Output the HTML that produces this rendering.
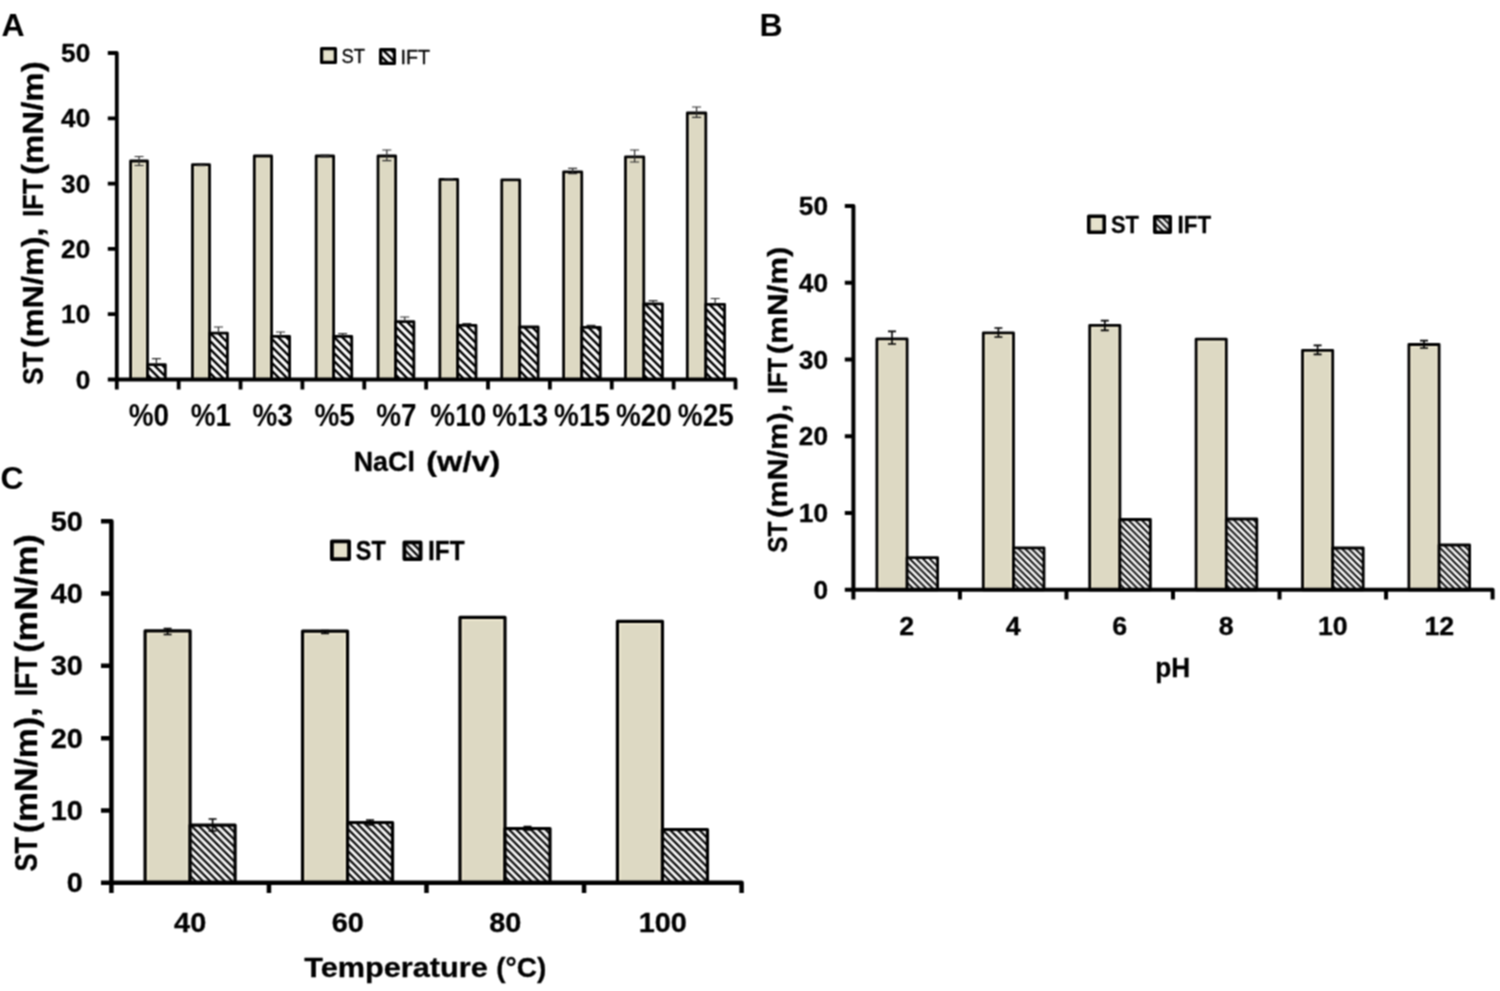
<!DOCTYPE html>
<html lang="en"><head><meta charset="utf-8"><title>ST and IFT charts</title>
<style>html,body{margin:0;padding:0;background:#fff}body{width:1500px;height:991px;overflow:hidden}svg{display:block}text{font-family:"Liberation Sans", sans-serif;fill:#000}</style>
</head><body>
<svg width="1500" height="991" viewBox="0 0 1500 991">
<defs>
<linearGradient id="g" x1="0" x2="1" y1="0" y2="0"><stop offset="0" stop-color="#F1ECD4"/><stop offset="0.18" stop-color="#DDD9C3"/><stop offset="0.82" stop-color="#DDD9C3"/><stop offset="1" stop-color="#F1ECD4"/></linearGradient>
<linearGradient id="g2" x1="0" x2="1" y1="0" y2="0"><stop offset="0" stop-color="#E6E2CC"/><stop offset="1" stop-color="#E6E2CC"/></linearGradient>
<pattern id="hA" width="8" height="8" patternUnits="userSpaceOnUse" patternTransform="translate(5 0)"><rect width="8" height="8" fill="#fff"/><path d="M-8 -8L16 16M-8 0L8 16M0 -8L16 8" stroke="#000" stroke-width="2.4"/></pattern>
<pattern id="hB" width="6.6" height="6.6" patternUnits="userSpaceOnUse" patternTransform="translate(1.2 0)"><rect width="6.6" height="6.6" fill="#fff"/><path d="M-6.6 -6.6L13.2 13.2M-6.6 0L6.6 13.2M0 -6.6L13.2 6.6" stroke="#000" stroke-width="1.9"/></pattern>
<pattern id="hC" width="7.3" height="7.3" patternUnits="userSpaceOnUse" patternTransform="translate(0.7 0)"><rect width="7.3" height="7.3" fill="#fff"/><path d="M-7.3 -7.3L14.6 14.6M-7.3 0L7.3 14.6M0 -7.3L14.6 7.3" stroke="#000" stroke-width="2.25"/></pattern>
<filter id="soft" x="0" y="0" width="1500" height="991" filterUnits="userSpaceOnUse" color-interpolation-filters="sRGB"><feConvolveMatrix order="3" kernelMatrix="1 2 1 2 4 2 1 2 1" divisor="16" edgeMode="duplicate" preserveAlpha="false"/></filter>
</defs>
<rect width="1500" height="991" fill="#fff"/>
<g filter="url(#soft)">
<rect x="130.60" y="161.00" width="16.90" height="218.50" fill="#EFE9D1" stroke="#000" stroke-width="2.8" stroke-linejoin="round"/>
<rect x="133.20" y="163.60" width="11.70" height="214.90" fill="#DDD9C3"/>
<rect x="147.50" y="364.60" width="17.80" height="14.90" fill="url(#hA)" stroke="#000" stroke-width="2.8" stroke-linejoin="round"/>
<rect x="192.46" y="164.60" width="17.07" height="214.90" fill="#EFE9D1" stroke="#000" stroke-width="2.8" stroke-linejoin="round"/>
<rect x="195.06" y="167.20" width="11.87" height="211.30" fill="#DDD9C3"/>
<rect x="209.53" y="333.20" width="17.91" height="46.30" fill="url(#hA)" stroke="#000" stroke-width="2.8" stroke-linejoin="round"/>
<rect x="254.32" y="156.00" width="17.24" height="223.50" fill="#EFE9D1" stroke="#000" stroke-width="2.8" stroke-linejoin="round"/>
<rect x="256.92" y="158.60" width="12.04" height="219.90" fill="#DDD9C3"/>
<rect x="271.56" y="336.40" width="18.02" height="43.10" fill="url(#hA)" stroke="#000" stroke-width="2.8" stroke-linejoin="round"/>
<rect x="316.18" y="156.00" width="17.41" height="223.50" fill="#EFE9D1" stroke="#000" stroke-width="2.8" stroke-linejoin="round"/>
<rect x="318.78" y="158.60" width="12.21" height="219.90" fill="#DDD9C3"/>
<rect x="333.59" y="336.40" width="18.13" height="43.10" fill="url(#hA)" stroke="#000" stroke-width="2.8" stroke-linejoin="round"/>
<rect x="378.04" y="156.00" width="17.58" height="223.50" fill="#EFE9D1" stroke="#000" stroke-width="2.8" stroke-linejoin="round"/>
<rect x="380.64" y="158.60" width="12.38" height="219.90" fill="#DDD9C3"/>
<rect x="395.62" y="321.60" width="18.24" height="57.90" fill="url(#hA)" stroke="#000" stroke-width="2.8" stroke-linejoin="round"/>
<rect x="439.90" y="179.40" width="17.75" height="200.10" fill="#EFE9D1" stroke="#000" stroke-width="2.8" stroke-linejoin="round"/>
<rect x="442.50" y="182.00" width="12.55" height="196.50" fill="#DDD9C3"/>
<rect x="457.65" y="325.40" width="18.35" height="54.10" fill="url(#hA)" stroke="#000" stroke-width="2.8" stroke-linejoin="round"/>
<rect x="501.76" y="179.80" width="17.92" height="199.70" fill="#EFE9D1" stroke="#000" stroke-width="2.8" stroke-linejoin="round"/>
<rect x="504.36" y="182.40" width="12.72" height="196.10" fill="#DDD9C3"/>
<rect x="519.68" y="327.00" width="18.46" height="52.50" fill="url(#hA)" stroke="#000" stroke-width="2.8" stroke-linejoin="round"/>
<rect x="563.62" y="171.80" width="18.09" height="207.70" fill="#EFE9D1" stroke="#000" stroke-width="2.8" stroke-linejoin="round"/>
<rect x="566.22" y="174.40" width="12.89" height="204.10" fill="#DDD9C3"/>
<rect x="581.71" y="327.40" width="18.57" height="52.10" fill="url(#hA)" stroke="#000" stroke-width="2.8" stroke-linejoin="round"/>
<rect x="625.48" y="156.80" width="18.26" height="222.70" fill="#EFE9D1" stroke="#000" stroke-width="2.8" stroke-linejoin="round"/>
<rect x="628.08" y="159.40" width="13.06" height="219.10" fill="#DDD9C3"/>
<rect x="643.74" y="303.80" width="18.68" height="75.70" fill="url(#hA)" stroke="#000" stroke-width="2.8" stroke-linejoin="round"/>
<rect x="687.34" y="113.00" width="18.43" height="266.50" fill="#EFE9D1" stroke="#000" stroke-width="2.8" stroke-linejoin="round"/>
<rect x="689.94" y="115.60" width="13.23" height="262.90" fill="#DDD9C3"/>
<rect x="705.77" y="304.30" width="18.79" height="75.20" fill="url(#hA)" stroke="#000" stroke-width="2.8" stroke-linejoin="round"/>
<path d="M139.05 156.50V165.50M134.55 156.50H143.55M134.55 165.50H143.55" stroke="#2a2a2a" stroke-width="1.2" fill="none"/>
<path d="M156.40 358.60V364.60M151.90 358.60H160.90" stroke="#2a2a2a" stroke-width="1.2" fill="none"/>
<path d="M200.99 163.60V165.60M196.49 163.60H205.49M196.49 165.60H205.49" stroke="#2a2a2a" stroke-width="1.2" fill="none"/>
<path d="M218.48 327.00V333.20M213.98 327.00H222.98" stroke="#2a2a2a" stroke-width="1.2" fill="none"/>
<path d="M280.57 332.00V336.40M276.07 332.00H285.07" stroke="#2a2a2a" stroke-width="1.2" fill="none"/>
<path d="M324.88 155.20V156.80M320.38 155.20H329.38M320.38 156.80H329.38" stroke="#2a2a2a" stroke-width="1.2" fill="none"/>
<path d="M342.65 333.60V336.40M338.15 333.60H347.15" stroke="#2a2a2a" stroke-width="1.2" fill="none"/>
<path d="M386.83 150.00V160.60M382.33 150.00H391.33M382.33 160.60H391.33" stroke="#2a2a2a" stroke-width="1.2" fill="none"/>
<path d="M404.74 317.00V321.60M400.24 317.00H409.24" stroke="#2a2a2a" stroke-width="1.2" fill="none"/>
<path d="M448.77 178.60V180.40M444.27 178.60H453.27M444.27 180.40H453.27" stroke="#2a2a2a" stroke-width="1.2" fill="none"/>
<path d="M466.82 323.60V325.40M462.32 323.60H471.32" stroke="#2a2a2a" stroke-width="1.2" fill="none"/>
<path d="M572.66 168.40V173.60M568.16 168.40H577.16M568.16 173.60H577.16" stroke="#2a2a2a" stroke-width="1.2" fill="none"/>
<path d="M591.00 325.40V327.40M586.50 325.40H595.50" stroke="#2a2a2a" stroke-width="1.2" fill="none"/>
<path d="M634.61 150.00V162.00M630.11 150.00H639.11M630.11 162.00H639.11" stroke="#2a2a2a" stroke-width="1.2" fill="none"/>
<path d="M653.08 300.60V303.80M648.58 300.60H657.58" stroke="#2a2a2a" stroke-width="1.2" fill="none"/>
<path d="M696.56 107.00V117.40M692.06 107.00H701.06M692.06 117.40H701.06" stroke="#2a2a2a" stroke-width="1.2" fill="none"/>
<path d="M715.16 298.50V304.30M710.66 298.50H719.66" stroke="#2a2a2a" stroke-width="1.2" fill="none"/>
<path d="M107.80 53.00H116.80V389.50M107.80 379.50H735.50V389.50M107.80 314.20H116.80M107.80 248.90H116.80M107.80 183.60H116.80M107.80 118.30H116.80M178.67 379.50V389.50M240.54 379.50V389.50M302.41 379.50V389.50M364.28 379.50V389.50M426.15 379.50V389.50M488.02 379.50V389.50M549.89 379.50V389.50M611.76 379.50V389.50M673.63 379.50V389.50" stroke="#000" stroke-width="3.8" fill="none" stroke-linejoin="round"/>
<text x="90.30" y="388.50" font-size="25" font-weight="bold" text-anchor="end" stroke="#000" stroke-width="0.3" stroke-linejoin="round" textLength="14.60" lengthAdjust="spacingAndGlyphs">0</text>
<text x="90.30" y="323.20" font-size="25" font-weight="bold" text-anchor="end" stroke="#000" stroke-width="0.3" stroke-linejoin="round" textLength="29.19" lengthAdjust="spacingAndGlyphs">10</text>
<text x="90.30" y="257.90" font-size="25" font-weight="bold" text-anchor="end" stroke="#000" stroke-width="0.3" stroke-linejoin="round" textLength="29.19" lengthAdjust="spacingAndGlyphs">20</text>
<text x="90.30" y="192.60" font-size="25" font-weight="bold" text-anchor="end" stroke="#000" stroke-width="0.3" stroke-linejoin="round" textLength="29.19" lengthAdjust="spacingAndGlyphs">30</text>
<text x="90.30" y="127.30" font-size="25" font-weight="bold" text-anchor="end" stroke="#000" stroke-width="0.3" stroke-linejoin="round" textLength="29.19" lengthAdjust="spacingAndGlyphs">40</text>
<text x="90.30" y="62.00" font-size="25" font-weight="bold" text-anchor="end" stroke="#000" stroke-width="0.3" stroke-linejoin="round" textLength="29.19" lengthAdjust="spacingAndGlyphs">50</text>
<text x="148.94" y="426.30" font-size="30.5" font-weight="bold" text-anchor="middle" textLength="40.33" lengthAdjust="spacingAndGlyphs">%0</text>
<text x="210.81" y="426.30" font-size="30.5" font-weight="bold" text-anchor="middle" textLength="40.33" lengthAdjust="spacingAndGlyphs">%1</text>
<text x="272.68" y="426.30" font-size="30.5" font-weight="bold" text-anchor="middle" textLength="40.33" lengthAdjust="spacingAndGlyphs">%3</text>
<text x="334.55" y="426.30" font-size="30.5" font-weight="bold" text-anchor="middle" textLength="40.33" lengthAdjust="spacingAndGlyphs">%5</text>
<text x="396.42" y="426.30" font-size="30.5" font-weight="bold" text-anchor="middle" textLength="40.33" lengthAdjust="spacingAndGlyphs">%7</text>
<text x="458.29" y="426.30" font-size="30.5" font-weight="bold" text-anchor="middle" textLength="55.84" lengthAdjust="spacingAndGlyphs">%10</text>
<text x="520.16" y="426.30" font-size="30.5" font-weight="bold" text-anchor="middle" textLength="55.84" lengthAdjust="spacingAndGlyphs">%13</text>
<text x="582.03" y="426.30" font-size="30.5" font-weight="bold" text-anchor="middle" textLength="55.84" lengthAdjust="spacingAndGlyphs">%15</text>
<text x="643.89" y="426.30" font-size="30.5" font-weight="bold" text-anchor="middle" textLength="55.84" lengthAdjust="spacingAndGlyphs">%20</text>
<text x="705.77" y="426.30" font-size="30.5" font-weight="bold" text-anchor="middle" textLength="55.84" lengthAdjust="spacingAndGlyphs">%25</text>
<text x="384.30" y="470.60" font-size="28" font-weight="bold" text-anchor="middle" stroke="#000" stroke-width="0.3" stroke-linejoin="round" textLength="61.20" lengthAdjust="spacingAndGlyphs">NaCl</text>
<text x="463.30" y="470.60" font-size="28" font-weight="bold" text-anchor="middle" stroke="#000" stroke-width="0.3" stroke-linejoin="round" textLength="74.00" lengthAdjust="spacingAndGlyphs">(w/v)</text>
<text x="43.00" y="368.22" font-size="30" font-weight="bold" text-anchor="middle" stroke="#000" stroke-width="0.3" stroke-linejoin="round" textLength="33.07" lengthAdjust="spacingAndGlyphs" transform="rotate(-90 43.00 368.22)">ST</text>
<text x="43.00" y="287.77" font-size="30" font-weight="bold" text-anchor="middle" stroke="#000" stroke-width="0.3" stroke-linejoin="round" textLength="120.69" lengthAdjust="spacingAndGlyphs" transform="rotate(-90 43.00 287.77)">(mN/m),</text>
<text x="43.00" y="197.72" font-size="30" font-weight="bold" text-anchor="middle" stroke="#000" stroke-width="0.3" stroke-linejoin="round" textLength="38.13" lengthAdjust="spacingAndGlyphs" transform="rotate(-90 43.00 197.72)">IFT</text>
<text x="43.00" y="118.17" font-size="30" font-weight="bold" text-anchor="middle" stroke="#000" stroke-width="0.3" stroke-linejoin="round" textLength="113.83" lengthAdjust="spacingAndGlyphs" transform="rotate(-90 43.00 118.17)">(mN/m)</text>
<rect x="321.6" y="48.6" width="13.8" height="13.8" fill="url(#g2)" stroke="#000" stroke-width="3.2" stroke-linejoin="round"/>
<rect x="380.6" y="49.6" width="13.8" height="13.8" fill="url(#hA)" stroke="#000" stroke-width="3.2" stroke-linejoin="round"/>
<text x="341.50" y="63.30" font-size="20.6" font-weight="normal" text-anchor="start" textLength="23.50" lengthAdjust="spacingAndGlyphs" stroke="#000" stroke-width="0.35">ST</text>
<text x="400.50" y="63.80" font-size="20.6" font-weight="normal" text-anchor="start" textLength="29.50" lengthAdjust="spacingAndGlyphs" stroke="#000" stroke-width="0.35">IFT</text>
<text x="1.60" y="36.30" font-size="32" font-weight="bold" text-anchor="start">A</text>
</g>
<g filter="url(#soft)">
<rect x="876.90" y="338.90" width="30.20" height="250.90" fill="#EFE9D1" stroke="#000" stroke-width="2.8" stroke-linejoin="round"/>
<rect x="879.90" y="341.90" width="24.20" height="246.90" fill="#DDD9C3"/>
<rect x="907.10" y="557.60" width="30.50" height="32.20" fill="url(#hB)" stroke="#000" stroke-width="2.8" stroke-linejoin="round"/>
<rect x="983.30" y="332.90" width="30.20" height="256.90" fill="#EFE9D1" stroke="#000" stroke-width="2.8" stroke-linejoin="round"/>
<rect x="986.30" y="335.90" width="24.20" height="252.90" fill="#DDD9C3"/>
<rect x="1013.50" y="547.80" width="30.50" height="42.00" fill="url(#hB)" stroke="#000" stroke-width="2.8" stroke-linejoin="round"/>
<rect x="1089.70" y="325.30" width="30.20" height="264.50" fill="#EFE9D1" stroke="#000" stroke-width="2.8" stroke-linejoin="round"/>
<rect x="1092.70" y="328.30" width="24.20" height="260.50" fill="#DDD9C3"/>
<rect x="1119.90" y="519.50" width="30.50" height="70.30" fill="url(#hB)" stroke="#000" stroke-width="2.8" stroke-linejoin="round"/>
<rect x="1196.10" y="339.20" width="30.20" height="250.60" fill="#EFE9D1" stroke="#000" stroke-width="2.8" stroke-linejoin="round"/>
<rect x="1199.10" y="342.20" width="24.20" height="246.60" fill="#DDD9C3"/>
<rect x="1226.30" y="519.00" width="30.50" height="70.80" fill="url(#hB)" stroke="#000" stroke-width="2.8" stroke-linejoin="round"/>
<rect x="1302.50" y="350.30" width="30.20" height="239.50" fill="#EFE9D1" stroke="#000" stroke-width="2.8" stroke-linejoin="round"/>
<rect x="1305.50" y="353.30" width="24.20" height="235.50" fill="#DDD9C3"/>
<rect x="1332.70" y="548.00" width="30.50" height="41.80" fill="url(#hB)" stroke="#000" stroke-width="2.8" stroke-linejoin="round"/>
<rect x="1408.90" y="344.50" width="30.20" height="245.30" fill="#EFE9D1" stroke="#000" stroke-width="2.8" stroke-linejoin="round"/>
<rect x="1411.90" y="347.50" width="24.20" height="241.30" fill="#DDD9C3"/>
<rect x="1439.10" y="545.00" width="30.50" height="44.80" fill="url(#hB)" stroke="#000" stroke-width="2.8" stroke-linejoin="round"/>
<path d="M892.00 331.40V344.00M888.00 331.40H896.00M888.00 344.00H896.00" stroke="#000" stroke-width="1.6" fill="none"/>
<path d="M998.40 328.00V337.00M994.40 328.00H1002.40M994.40 337.00H1002.40" stroke="#000" stroke-width="1.6" fill="none"/>
<path d="M1104.80 320.60V330.40M1100.80 320.60H1108.80M1100.80 330.40H1108.80" stroke="#000" stroke-width="1.6" fill="none"/>
<path d="M1317.60 345.40V354.40M1313.60 345.40H1321.60M1313.60 354.40H1321.60" stroke="#000" stroke-width="1.6" fill="none"/>
<path d="M1424.00 340.60V348.00M1420.00 340.60H1428.00M1420.00 348.00H1428.00" stroke="#000" stroke-width="1.6" fill="none"/>
<path d="M844.80 206.00H853.40V599.60M844.80 589.80H1492.60V599.60M844.80 513.04H853.40M844.80 436.28H853.40M844.80 359.52H853.40M844.80 282.76H853.40M959.93 589.80V599.60M1066.47 589.80V599.60M1173.00 589.80V599.60M1279.53 589.80V599.60M1386.07 589.80V599.60" stroke="#000" stroke-width="4.0" fill="none" stroke-linejoin="round"/>
<text x="828.00" y="598.80" font-size="25" font-weight="bold" text-anchor="end" stroke="#000" stroke-width="0.3" stroke-linejoin="round" textLength="14.60" lengthAdjust="spacingAndGlyphs">0</text>
<text x="828.00" y="522.04" font-size="25" font-weight="bold" text-anchor="end" stroke="#000" stroke-width="0.3" stroke-linejoin="round" textLength="29.19" lengthAdjust="spacingAndGlyphs">10</text>
<text x="828.00" y="445.28" font-size="25" font-weight="bold" text-anchor="end" stroke="#000" stroke-width="0.3" stroke-linejoin="round" textLength="29.19" lengthAdjust="spacingAndGlyphs">20</text>
<text x="828.00" y="368.52" font-size="25" font-weight="bold" text-anchor="end" stroke="#000" stroke-width="0.3" stroke-linejoin="round" textLength="29.19" lengthAdjust="spacingAndGlyphs">30</text>
<text x="828.00" y="291.76" font-size="25" font-weight="bold" text-anchor="end" stroke="#000" stroke-width="0.3" stroke-linejoin="round" textLength="29.19" lengthAdjust="spacingAndGlyphs">40</text>
<text x="828.00" y="215.00" font-size="25" font-weight="bold" text-anchor="end" stroke="#000" stroke-width="0.3" stroke-linejoin="round" textLength="29.19" lengthAdjust="spacingAndGlyphs">50</text>
<text x="906.67" y="635.30" font-size="25" font-weight="bold" text-anchor="middle" stroke="#000" stroke-width="0.3" stroke-linejoin="round" textLength="14.87" lengthAdjust="spacingAndGlyphs">2</text>
<text x="1013.20" y="635.30" font-size="25" font-weight="bold" text-anchor="middle" stroke="#000" stroke-width="0.3" stroke-linejoin="round" textLength="14.87" lengthAdjust="spacingAndGlyphs">4</text>
<text x="1119.73" y="635.30" font-size="25" font-weight="bold" text-anchor="middle" stroke="#000" stroke-width="0.3" stroke-linejoin="round" textLength="14.87" lengthAdjust="spacingAndGlyphs">6</text>
<text x="1226.27" y="635.30" font-size="25" font-weight="bold" text-anchor="middle" stroke="#000" stroke-width="0.3" stroke-linejoin="round" textLength="14.87" lengthAdjust="spacingAndGlyphs">8</text>
<text x="1332.80" y="635.30" font-size="25" font-weight="bold" text-anchor="middle" stroke="#000" stroke-width="0.3" stroke-linejoin="round" textLength="29.75" lengthAdjust="spacingAndGlyphs">10</text>
<text x="1439.33" y="635.30" font-size="25" font-weight="bold" text-anchor="middle" stroke="#000" stroke-width="0.3" stroke-linejoin="round" textLength="29.75" lengthAdjust="spacingAndGlyphs">12</text>
<text x="1172.80" y="677.00" font-size="27" font-weight="bold" text-anchor="middle" stroke="#000" stroke-width="0.3" stroke-linejoin="round" textLength="34.95" lengthAdjust="spacingAndGlyphs">pH</text>
<text x="786.60" y="537.06" font-size="28.5" font-weight="bold" text-anchor="middle" stroke="#000" stroke-width="0.3" stroke-linejoin="round" textLength="31.30" lengthAdjust="spacingAndGlyphs" transform="rotate(-90 786.60 537.06)">ST</text>
<text x="786.60" y="460.94" font-size="28.5" font-weight="bold" text-anchor="middle" stroke="#000" stroke-width="0.3" stroke-linejoin="round" textLength="114.21" lengthAdjust="spacingAndGlyphs" transform="rotate(-90 786.60 460.94)">(mN/m),</text>
<text x="786.60" y="375.72" font-size="28.5" font-weight="bold" text-anchor="middle" stroke="#000" stroke-width="0.3" stroke-linejoin="round" textLength="36.09" lengthAdjust="spacingAndGlyphs" transform="rotate(-90 786.60 375.72)">IFT</text>
<text x="786.60" y="300.45" font-size="28.5" font-weight="bold" text-anchor="middle" stroke="#000" stroke-width="0.3" stroke-linejoin="round" textLength="107.72" lengthAdjust="spacingAndGlyphs" transform="rotate(-90 786.60 300.45)">(mN/m)</text>
<rect x="1088.8" y="216.3" width="15.4" height="15.9" fill="url(#g2)" stroke="#000" stroke-width="3.6" stroke-linejoin="round"/>
<rect x="1154.8" y="216.8" width="15.4" height="15.4" fill="url(#hB)" stroke="#000" stroke-width="3.6" stroke-linejoin="round"/>
<text x="1111.00" y="233.00" font-size="24.6" font-weight="bold" text-anchor="start" stroke="#000" stroke-width="0.3" stroke-linejoin="round" textLength="28.00" lengthAdjust="spacingAndGlyphs">ST</text>
<text x="1177.60" y="233.00" font-size="24.6" font-weight="bold" text-anchor="start" stroke="#000" stroke-width="0.3" stroke-linejoin="round" textLength="33.50" lengthAdjust="spacingAndGlyphs">IFT</text>
<text x="759.40" y="36.30" font-size="32" font-weight="bold" text-anchor="start">B</text>
</g>
<g filter="url(#soft)">
<rect x="145.10" y="630.80" width="45.00" height="252.00" fill="#EFE9D1" stroke="#000" stroke-width="3.2" stroke-linejoin="round"/>
<rect x="148.60" y="634.30" width="38.00" height="247.50" fill="#DDD9C3"/>
<rect x="190.10" y="825.20" width="45.00" height="57.60" fill="url(#hC)" stroke="#000" stroke-width="3.2" stroke-linejoin="round"/>
<rect x="302.55" y="631.20" width="45.00" height="251.60" fill="#EFE9D1" stroke="#000" stroke-width="3.2" stroke-linejoin="round"/>
<rect x="306.05" y="634.70" width="38.00" height="247.10" fill="#DDD9C3"/>
<rect x="347.55" y="822.50" width="45.00" height="60.30" fill="url(#hC)" stroke="#000" stroke-width="3.2" stroke-linejoin="round"/>
<rect x="460.00" y="617.40" width="45.00" height="265.40" fill="#EFE9D1" stroke="#000" stroke-width="3.2" stroke-linejoin="round"/>
<rect x="463.50" y="620.90" width="38.00" height="260.90" fill="#DDD9C3"/>
<rect x="505.00" y="828.50" width="45.00" height="54.30" fill="url(#hC)" stroke="#000" stroke-width="3.2" stroke-linejoin="round"/>
<rect x="617.45" y="621.30" width="45.00" height="261.50" fill="#EFE9D1" stroke="#000" stroke-width="3.2" stroke-linejoin="round"/>
<rect x="620.95" y="624.80" width="38.00" height="257.00" fill="#DDD9C3"/>
<rect x="662.45" y="829.50" width="45.00" height="53.30" fill="url(#hC)" stroke="#000" stroke-width="3.2" stroke-linejoin="round"/>
<path d="M167.60 628.50V634.50M163.60 628.50H171.60M163.60 634.50H171.60" stroke="#000" stroke-width="1.6" fill="none"/>
<path d="M212.60 819.00V831.00M208.60 819.00H216.60M208.60 831.00H216.60" stroke="#000" stroke-width="1.6" fill="none"/>
<path d="M325.05 630.50V633.50M321.05 630.50H329.05M321.05 633.50H329.05" stroke="#000" stroke-width="1.6" fill="none"/>
<path d="M370.05 820.00V825.00M366.05 820.00H374.05M366.05 825.00H374.05" stroke="#000" stroke-width="1.6" fill="none"/>
<path d="M527.50 826.50V830.00M523.50 826.50H531.50M523.50 830.00H531.50" stroke="#000" stroke-width="1.6" fill="none"/>
<path d="M101.00 521.20H111.40V893.10M101.00 882.80H741.60V893.10M101.00 810.48H111.40M101.00 738.16H111.40M101.00 665.84H111.40M101.00 593.52H111.40M268.95 882.80V893.10M426.50 882.80V893.10M584.05 882.80V893.10" stroke="#000" stroke-width="4.5" fill="none" stroke-linejoin="round"/>
<text x="82.80" y="892.40" font-size="27" font-weight="bold" text-anchor="end" stroke="#000" stroke-width="0.3" stroke-linejoin="round" textLength="16.06" lengthAdjust="spacingAndGlyphs">0</text>
<text x="82.80" y="820.08" font-size="27" font-weight="bold" text-anchor="end" stroke="#000" stroke-width="0.3" stroke-linejoin="round" textLength="32.13" lengthAdjust="spacingAndGlyphs">10</text>
<text x="82.80" y="747.76" font-size="27" font-weight="bold" text-anchor="end" stroke="#000" stroke-width="0.3" stroke-linejoin="round" textLength="32.13" lengthAdjust="spacingAndGlyphs">20</text>
<text x="82.80" y="675.44" font-size="27" font-weight="bold" text-anchor="end" stroke="#000" stroke-width="0.3" stroke-linejoin="round" textLength="32.13" lengthAdjust="spacingAndGlyphs">30</text>
<text x="82.80" y="603.12" font-size="27" font-weight="bold" text-anchor="end" stroke="#000" stroke-width="0.3" stroke-linejoin="round" textLength="32.13" lengthAdjust="spacingAndGlyphs">40</text>
<text x="82.80" y="530.80" font-size="27" font-weight="bold" text-anchor="end" stroke="#000" stroke-width="0.3" stroke-linejoin="round" textLength="32.13" lengthAdjust="spacingAndGlyphs">50</text>
<text x="190.18" y="932.20" font-size="27" font-weight="bold" text-anchor="middle" stroke="#000" stroke-width="0.3" stroke-linejoin="round" textLength="32.13" lengthAdjust="spacingAndGlyphs">40</text>
<text x="347.73" y="932.20" font-size="27" font-weight="bold" text-anchor="middle" stroke="#000" stroke-width="0.3" stroke-linejoin="round" textLength="32.13" lengthAdjust="spacingAndGlyphs">60</text>
<text x="505.27" y="932.20" font-size="27" font-weight="bold" text-anchor="middle" stroke="#000" stroke-width="0.3" stroke-linejoin="round" textLength="32.13" lengthAdjust="spacingAndGlyphs">80</text>
<text x="662.83" y="932.20" font-size="27" font-weight="bold" text-anchor="middle" stroke="#000" stroke-width="0.3" stroke-linejoin="round" textLength="48.19" lengthAdjust="spacingAndGlyphs">100</text>
<text x="396.00" y="977.00" font-size="28" font-weight="bold" text-anchor="middle" stroke="#000" stroke-width="0.3" stroke-linejoin="round" textLength="183.40" lengthAdjust="spacingAndGlyphs">Temperature</text>
<text x="521.30" y="977.00" font-size="28" font-weight="bold" text-anchor="middle" stroke="#000" stroke-width="0.3" stroke-linejoin="round" textLength="50.00" lengthAdjust="spacingAndGlyphs">(°C)</text>
<text x="37.00" y="854.25" font-size="30.8" font-weight="bold" text-anchor="middle" stroke="#000" stroke-width="0.3" stroke-linejoin="round" textLength="34.45" lengthAdjust="spacingAndGlyphs" transform="rotate(-90 37.00 854.25)">ST</text>
<text x="37.00" y="770.38" font-size="30.8" font-weight="bold" text-anchor="middle" stroke="#000" stroke-width="0.3" stroke-linejoin="round" textLength="125.80" lengthAdjust="spacingAndGlyphs" transform="rotate(-90 37.00 770.38)">(mN/m),</text>
<text x="37.00" y="676.49" font-size="30.8" font-weight="bold" text-anchor="middle" stroke="#000" stroke-width="0.3" stroke-linejoin="round" textLength="39.73" lengthAdjust="spacingAndGlyphs" transform="rotate(-90 37.00 676.49)">IFT</text>
<text x="37.00" y="593.55" font-size="30.8" font-weight="bold" text-anchor="middle" stroke="#000" stroke-width="0.3" stroke-linejoin="round" textLength="118.65" lengthAdjust="spacingAndGlyphs" transform="rotate(-90 37.00 593.55)">(mN/m)</text>
<rect x="331.9" y="541.4" width="17.2" height="17.7" fill="url(#g2)" stroke="#000" stroke-width="3.8" stroke-linejoin="round"/>
<rect x="404.4" y="542.4" width="16.2" height="16.7" fill="url(#hC)" stroke="#000" stroke-width="3.8" stroke-linejoin="round"/>
<text x="355.80" y="560.00" font-size="27" font-weight="bold" text-anchor="start" stroke="#000" stroke-width="0.3" stroke-linejoin="round" textLength="30.00" lengthAdjust="spacingAndGlyphs">ST</text>
<text x="428.00" y="560.00" font-size="27" font-weight="bold" text-anchor="start" stroke="#000" stroke-width="0.3" stroke-linejoin="round" textLength="36.60" lengthAdjust="spacingAndGlyphs">IFT</text>
<text x="0.50" y="488.80" font-size="32" font-weight="bold" text-anchor="start">C</text>
</g>
</svg></body></html>
